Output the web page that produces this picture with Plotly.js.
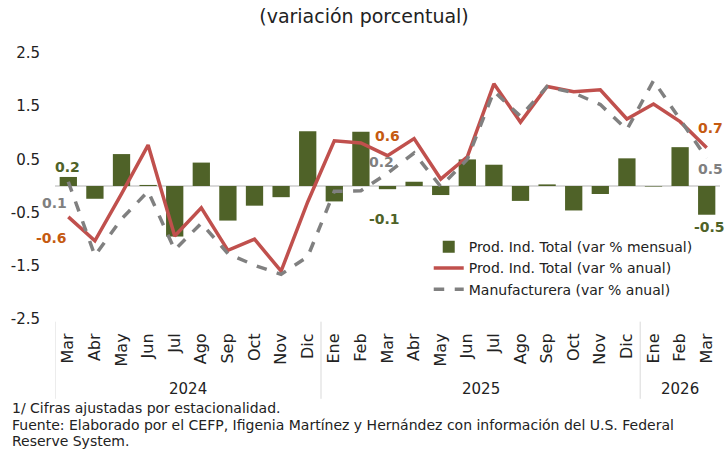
<!DOCTYPE html>
<html><head><meta charset="utf-8">
<script src="https://cdn.plot.ly/plotly-3.0.1.min.js"></script>
<style>html,body{margin:0;padding:0;background:#fff}#c{width:728px;height:455px}</style>
</head><body><div id="c"></div>
<script>
const months = ["Mar","Abr","May","Jun","Jul","Ago","Sep","Oct","Nov","Dic","Ene","Feb","Mar","Abr","May","Jun","Jul","Ago","Sep","Oct","Nov","Dic","Ene","Feb","Mar"];
const years = ["2024","2025","2026"];
const yearSpans = [[0,9],[10,21],[22,24]];
const mensual = [0.17,-0.24,0.6,0.02,-0.95,0.44,-0.65,-0.37,-0.21,1.03,-0.29,1.02,-0.06,0.08,-0.17,0.5,0.4,-0.28,0.03,-0.46,-0.15,0.52,-0.01,0.73,-0.54];
const anual = [-0.58,-1.03,-0.15,0.77,-0.94,-0.41,-1.21,-1.0,-1.6,-0.3,0.85,0.81,0.57,0.89,0.13,0.55,1.92,1.2,1.87,1.77,1.81,1.26,1.54,1.21,0.72];
const manuf = [0.08,-1.31,-0.62,-0.1,-1.2,-0.7,-1.27,-1.49,-1.66,-1.33,-0.1,-0.09,0.24,0.62,-0.01,0.5,1.78,1.31,1.87,1.75,1.53,1.06,1.98,1.25,0.52];

const xs = months.map((m,i)=>i);
const FONT = "Century Gothic, DejaVu Sans, sans-serif";
const GREEN = "#4F6228", RED = "#C0504D", GREY = "#808080", BROWN = "#C55A11";

const traces = [
  {type:"bar", x:xs, y:mensual, name:"Prod. Ind. Total (var % mensual)", marker:{color:GREEN}, width:0.65},
  {type:"scatter", mode:"lines", x:xs, y:anual, name:"Prod. Ind. Total (var % anual)", line:{color:RED, width:3.5}},
  {type:"scatter", mode:"lines", x:xs, y:manuf, name:"Manufacturera (var % anual)", line:{color:GREY, width:3.5, dash:"dash"}}
];

function lab(series, i, color, xs_, ys_) {
  return {x:i, y:series[i], xref:"x", yref:"y", text:"<b>"+series[i].toFixed(1)+"</b>", showarrow:false,
          font:{family:FONT, size:14, color:color}, xshift:xs_, yshift:ys_};
}
const last = months.length-1;
const annotations = [
  lab(mensual,0,GREEN,-1,10),
  lab(manuf,0,GREY,-14,-21),
  lab(anual,0,BROWN,-17,-21),
  lab(anual,12,BROWN,0,20),
  lab(manuf,12,GREY,-6,11),
  lab(mensual,12,GREEN,-3,-30),
  lab(anual,last,BROWN,4,20),
  lab(manuf,last,GREY,4,-11),
  lab(mensual,last,GREEN,3,-12)
];
years.forEach((y,k)=>{
  annotations.push({x:(yearSpans[k][0]+yearSpans[k][1])/2, y:-0.263, xref:"x", yref:"paper", text:y, showarrow:false,
    font:{family:FONT, size:15, color:"#222"}, yanchor:"middle"});
});
const notes = ["1/ Cifras ajustadas por estacionalidad.",
  "Fuente: Elaborado por el CEFP, Ifigenia Martínez y Hernández con información del U.S. Federal",
  "Reserve System."];
notes.forEach((t,k)=>{
  annotations.push({x:-0.068, y:-0.335-k*0.062, xref:"paper", yref:"paper", text:t, showarrow:false, xanchor:"left", yanchor:"middle",
    font:{family:FONT, size:14, color:"#222"}});
});
const shapes = [];
[-0.5, 9.5, 21.5].forEach(v=>{
  shapes.push({type:"line", xref:"x", yref:"paper", x0:v, x1:v, y0:-0.01, y1:-0.3, line:{color:"#d9d9d9", width:1}});
});

const layout = {
  width:728, height:455, paper_bgcolor:"#fff", plot_bgcolor:"#fff",
  margin:{l:55, r:8, t:53, b:136},
  title:{text:"(variación porcentual)", x:0.5, xref:"container", xanchor:"center", y:0.965, yanchor:"middle", font:{family:FONT, size:19, color:"#222"}},
  font:{family:FONT, color:"#222"},
  showlegend:true,
  legend:{x:0.562, y:0.33, xanchor:"left", yanchor:"top", bgcolor:"rgba(0,0,0,0)", font:{family:FONT, size:14, color:"#222"}, tracegroupgap:0, itemwidth:30},
  xaxis:{range:[-0.5,24.5], tickmode:"array", tickvals:xs, ticktext:months, tickangle:-90, showgrid:false, zeroline:false, showline:false,
    ticks:"outside", ticklen:7, tickcolor:"rgba(0,0,0,0)", tickfont:{family:FONT, size:16, color:"#222"}},
  yaxis:{range:[-2.5,2.5], tickmode:"array", tickvals:[-2.5,-1.5,-0.5,0.5,1.5,2.5], ticktext:["-2.5","-1.5","-0.5","0.5","1.5","2.5"],
    showgrid:false, zeroline:true, zerolinecolor:"#d9d9d9", zerolinewidth:2, showline:false, ticks:"", ticklabelstandoff:14,
    tickfont:{family:FONT, size:15, color:"#222"}},
  annotations:annotations, shapes:shapes, bargap:0.35
};
Plotly.newPlot("c", traces, layout, {displayModeBar:false, staticPlot:true});
</script></body></html>
